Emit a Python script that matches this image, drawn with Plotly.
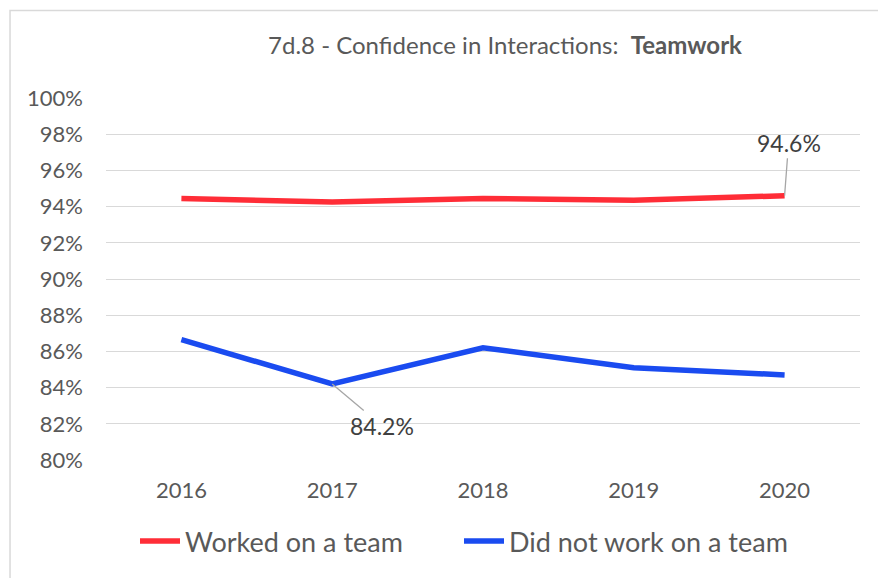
import plotly.graph_objects as go

years = ["2016", "2017", "2018", "2019", "2020"]
worked_on_team = [94.45, 94.25, 94.45, 94.35, 94.6]
not_on_team = [86.65, 84.2, 86.2, 85.1, 84.7]
y_ticks = list(range(80, 101, 2))
y_tick_labels = [f"{v}%" for v in y_ticks]

RED = "#FF2D37"
BLUE = "#1A4BF0"
TEXT = "#595959"
FONT = "Lato, Open Sans, sans-serif"

fig = go.Figure()
fig.add_trace(go.Scatter(
    x=years, y=worked_on_team, mode="lines", name="Worked on a team",
    line=dict(color=RED, width=5.5), legend="legend",
))
fig.add_trace(go.Scatter(
    x=years, y=not_on_team, mode="lines", name="Did not work on a team",
    line=dict(color=BLUE, width=5.5), legend="legend2",
))

# value callouts with leader lines (x given as category index)
callouts = [(1, not_on_team[1], 50, 42), (4, worked_on_team[4], 4, -53)]
for idx, val, dx, dy in callouts:
    fig.add_annotation(xref="x", yref="y", x=idx, y=val, text=f"{val:.1f}%",
                       showarrow=True, arrowhead=0, arrowwidth=1.3, arrowcolor="#A6A6A6",
                       ax=dx, ay=dy, font=dict(size=23, color="#404040", family=FONT))

# outer frame of the chart area
fig.add_shape(type="rect", xref="paper", yref="paper",
              x0=-0.1273, x1=1.2, y0=-0.5, y1=1.2418,
              line=dict(color="#D9D9D9", width=1.5), fillcolor="rgba(0,0,0,0)", layer="below")

legend_style = dict(orientation="h", xanchor="left", y=-0.225, yanchor="middle",
                    font=dict(size=27, color=TEXT), itemwidth=40,
                    bgcolor="rgba(0,0,0,0)")

fig.update_layout(
    width=878, height=578,
    margin=dict(l=106, r=18, t=98, b=116),
    paper_bgcolor="white", plot_bgcolor="white",
    font=dict(family=FONT, color=TEXT, size=22),
    title=dict(text="7d.8 - Confidence in Interactions:  <b>Teamwork</b>",
               x=505 / 878, xanchor="center", y=1 - 46 / 578, yanchor="middle",
               font=dict(size=24, color=TEXT, family=FONT)),
    xaxis=dict(type="category", range=[-0.5, 4.5], showgrid=False, showline=False,
               ticks="", tickfont=dict(size=22, color=TEXT), ticklabelstandoff=15),
    yaxis=dict(range=[80, 100], tickvals=y_ticks, ticktext=y_tick_labels,
               showgrid=True, gridcolor="#D9D9D9", gridwidth=1.3, zeroline=False,
               showline=False, ticks="", ticklabelstandoff=22,
               tickfont=dict(size=22, color=TEXT)),
    legend=dict(x=(135 - 106) / 754, **legend_style),
    legend2=dict(x=(459 - 106) / 754, **legend_style),
    showlegend=True,
)

fig.write_html("out.html")
